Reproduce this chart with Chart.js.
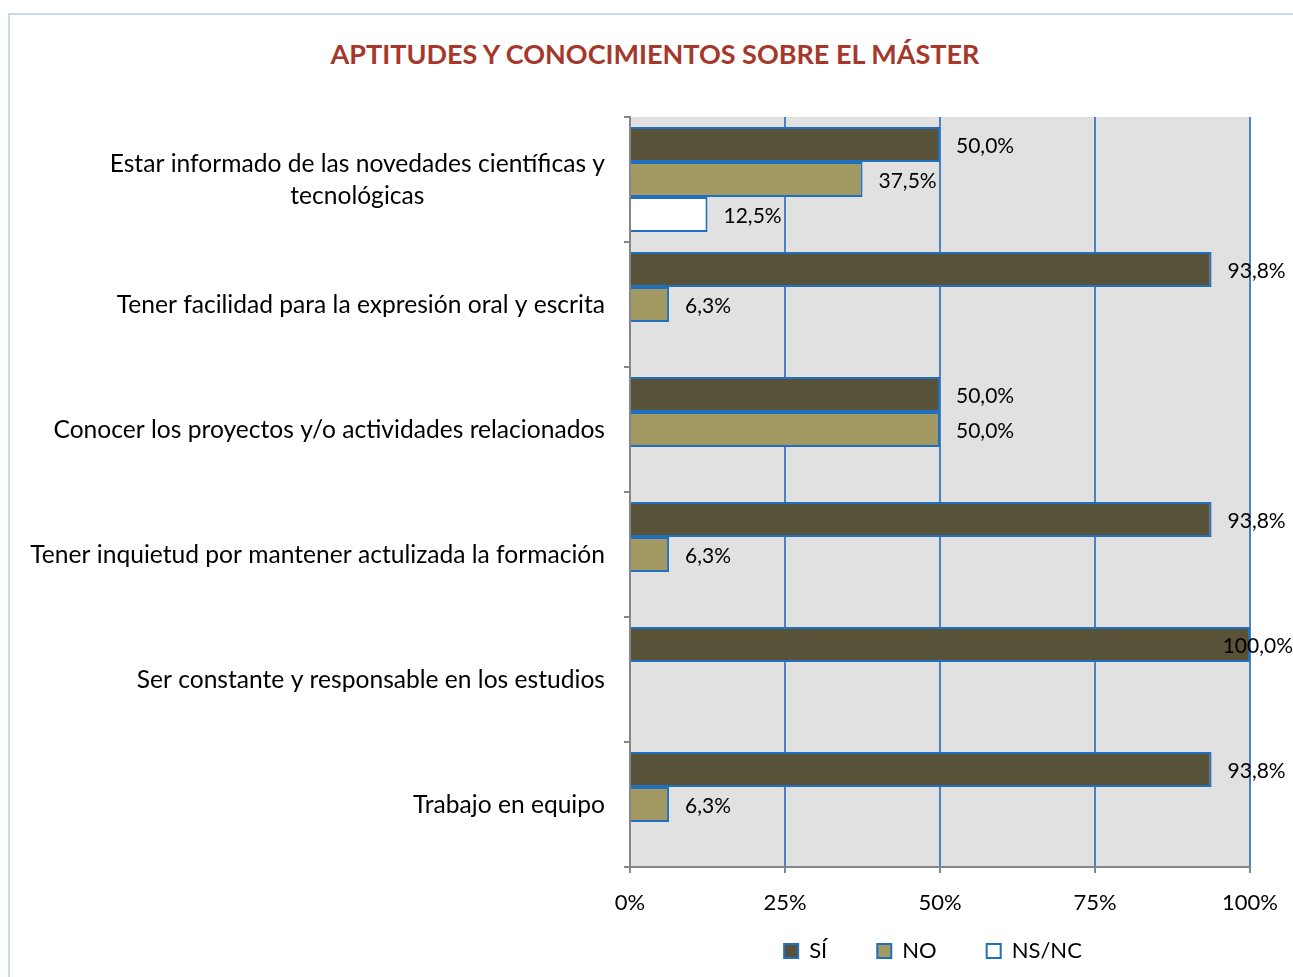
<!DOCTYPE html>
<html>
<head>
<meta charset="utf-8">
<script src="https://cdn.jsdelivr.net/npm/chart.js@4.4.1/dist/chart.umd.min.js"></script>
<style>
body { margin: 0; background: #fff; }
#marco { position: absolute; left: 8px; top: 13px; width: 1300px; height: 1000px; border-left: 2px solid #c6d9f1; border-top: 2px solid #c6d9f1; }
#titulo { position: absolute; left: 0; top: 37px; width: 1310px; line-height: 36px; text-align: center; font: bold 27px Lato; color: #a5382b; }
canvas { position: absolute; left: 0; top: 0; }
</style>
</head>
<body>
<div id="marco"></div>
<div id="titulo">APTITUDES Y CONOCIMIENTOS SOBRE EL MÁSTER</div>
<canvas id="grafico" width="1293" height="977"></canvas>
<script>
const categorias = [
    ['Estar informado de las novedades científicas y', 'tecnológicas'],
    'Tener facilidad para la expresión oral y escrita',
    'Conocer los proyectos y/o actividades relacionados',
    'Tener inquietud por mantener actulizada la formación',
    'Ser constante y responsable en los estudios',
    'Trabajo en equipo'
];
const valoresSi = [50.0, 93.8, 50.0, 93.8, 100.0, 93.8];
const valoresNo = [37.5, 6.3, 50.0, 6.3, null, 6.3];
const valoresNsNc = [12.5, null, null, null, null, null];
const ticksX = [0, 25, 50, 75, 100];

const fuente = 'Lato';
const azul = '#1f70c1';
const gris = '#868686';

// fondo gris del area de trazado
const fondo = {
    id: 'fondo',
    beforeDraw(chart) {
        const a = chart.chartArea;
        chart.ctx.save();
        chart.ctx.fillStyle = '#e1e1e1';
        chart.ctx.fillRect(a.left, a.top, a.right - a.left, a.bottom - a.top);
        chart.ctx.restore();
    },
    afterLayout(chart) {
        // leyenda centrada bajo el area de trazado
        const l = chart.legend;
        l.left = 616; l.right = 1250;
        l.top = 890; l.bottom = 977;
        l.width = l.right - l.left; l.height = l.bottom - l.top;
    }
};

// etiquetas de categoria (varias lineas centradas, alineadas a la derecha)
const etiquetasY = {
    id: 'etiquetasY',
    afterDraw(chart) {
        const ctx = chart.ctx;
        const y = chart.scales.y;
        ctx.save();
        ctx.font = '24.6px ' + fuente;
        ctx.fillStyle = '#000';
        ctx.textAlign = 'center';
        ctx.textBaseline = 'middle';
        categorias.forEach((cat, i) => {
            const lineas = Array.isArray(cat) ? cat : [cat];
            const ancho = Math.max(...lineas.map(l => ctx.measureText(l).width));
            const cx = 605 - ancho / 2;
            const cy = y.getPixelForValue(i) + 1;
            lineas.forEach((l, j) => {
                ctx.fillText(l, cx, cy + (j - (lineas.length - 1) / 2) * 32);
            });
        });
        ctx.restore();
    }
};

// valores al final de cada barra
const valores = {
    id: 'valores',
    afterDatasetsDraw(chart) {
        const ctx = chart.ctx;
        ctx.save();
        ctx.font = '21px ' + fuente;
        ctx.fillStyle = '#000';
        ctx.textAlign = 'left';
        ctx.textBaseline = 'middle';
        chart.data.datasets.forEach((ds, d) => {
            chart.getDatasetMeta(d).data.forEach((el, i) => {
                const v = ds.data[i];
                if (v == null) return;
                const txt = v.toFixed(1).replace('.', ',') + '%';
                const w = ctx.measureText(txt).width;
                let x = el.x + 16;
                if (x + w > chart.width) x = chart.width - w;
                ctx.fillText(txt, x, el.y + 1.5);
            });
        });
        ctx.restore();
    }
};

function dibujar() {
    new Chart(document.getElementById('grafico'), {
        type: 'bar',
        data: {
            labels: categorias,
            datasets: [
                { label: 'SÍ', data: valoresSi, backgroundColor: '#585238', borderColor: azul, borderWidth: 2 },
                { label: 'NO', data: valoresNo, backgroundColor: '#a39a63', borderColor: azul, borderWidth: 2 },
                { label: 'NS/NC', data: valoresNsNc, backgroundColor: '#ffffff', borderColor: azul, borderWidth: 2 }
            ]
        },
        options: {
            indexAxis: 'y',
            responsive: false,
            animation: false,
            categoryPercentage: 0.84,
            barPercentage: 1.0,
            layout: { padding: { top: 117, right: 43, bottom: -27, left: 0 } },
            scales: {
                x: {
                    type: 'linear',
                    min: 0,
                    max: 100,
                    afterBuildTicks: s => { s.ticks = ticksX.map(v => ({ value: v })); },
                    afterFit: s => { s.height = 55; s.paddingLeft = 0; s.paddingRight = 0; },
                    grid: {
                        color: c => c.tick && c.tick.value === 0 ? 'rgba(0,0,0,0)' : '#4f81bd',
                        tickColor: gris,
                        lineWidth: 2,
                        tickLength: 6
                    },
                    border: { color: gris, width: 2 },
                    ticks: {
                        padding: 17,
                        color: '#000',
                        font: { family: fuente, size: 22 },
                        callback: v => v + '%'
                    }
                },
                y: {
                    afterFit: s => { s.width = 630; },
                    grid: { drawOnChartArea: false, color: gris, tickLength: 6, lineWidth: 2 },
                    border: { color: gris, width: 2 },
                    ticks: { display: false }
                }
            },
            plugins: {
                legend: {
                    position: 'bottom',
                    labels: {
                        boxWidth: 14,
                        boxHeight: 14,
                        padding: 50,
                        color: '#000',
                        font: { family: fuente, size: 22 }
                    }
                },
                tooltip: { enabled: false }
            }
        },
        plugins: [fondo, etiquetasY, valores]
    });
}

document.fonts.load('20px ' + fuente).then(dibujar, dibujar);
</script>
</body>
</html>
